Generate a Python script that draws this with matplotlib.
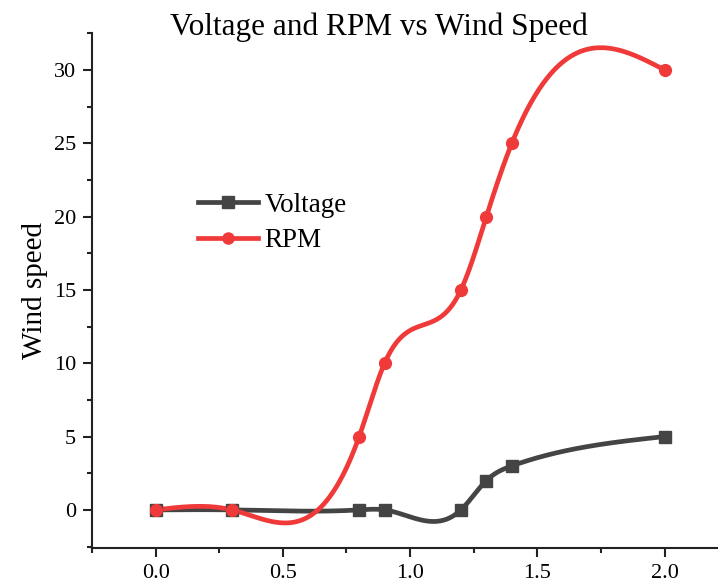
import matplotlib
matplotlib.use("Agg")
import matplotlib.pyplot as plt
import numpy as np
from matplotlib.ticker import MultipleLocator, FormatStrFormatter

# data
wind = [0.0, 0.3, 0.8, 0.9, 1.2, 1.3, 1.4, 2.0]
voltage = [0, 0, 0, 0, 0, 2, 3, 5]
rpm = [0, 0, 5, 10, 15, 20, 25, 30]

GRAY = "#444444"
RED = "#f03a3a"


def spline_curve(x, y, n=500):
    """natural cubic spline through the points (only used to draw the smooth line)"""
    x = np.asarray(x, float)
    y = np.asarray(y, float)
    k = len(x)
    h = np.diff(x)
    A = np.zeros((k, k))
    b = np.zeros(k)
    A[0, 0] = A[-1, -1] = 1
    for i in range(1, k - 1):
        A[i, i - 1] = h[i - 1]
        A[i, i] = 2 * (h[i - 1] + h[i])
        A[i, i + 1] = h[i]
        b[i] = 6 * ((y[i + 1] - y[i]) / h[i] - (y[i] - y[i - 1]) / h[i - 1])
    M = np.linalg.solve(A, b)
    xs = np.linspace(x[0], x[-1], n)
    idx = np.clip(np.searchsorted(x, xs) - 1, 0, k - 2)
    x0, x1 = x[idx], x[idx + 1]
    hh = x1 - x0
    t0, t1 = x1 - xs, xs - x0
    ys = (M[idx] * t0 ** 3 + M[idx + 1] * t1 ** 3) / (6 * hh) \
        + (y[idx] / hh - M[idx] * hh / 6) * t0 \
        + (y[idx + 1] / hh - M[idx + 1] * hh / 6) * t1
    return xs, ys


plt.rcParams["font.family"] = "Liberation Serif"

fig = plt.figure(figsize=(7.18, 5.83), dpi=100)
ax = fig.add_axes([0.1281, 0.060, 0.886, 0.883])

for yy, col, mk in [(voltage, GRAY, "s"), (rpm, RED, "o")]:
    xs, ys = spline_curve(wind, yy)
    ax.plot(xs, ys, color=col, lw=3.4, zorder=3)
    ax.plot(wind, yy, ls="none", marker=mk, ms=8.5, color=col, zorder=4)

# legend proxies (line + marker)
h1, = ax.plot([], [], color=GRAY, lw=3.4, marker="s", ms=8, label="Voltage")
h2, = ax.plot([], [], color=RED, lw=3.4, marker="o", ms=8, label="RPM")
ax.legend(handles=[h1, h2], loc="upper left", bbox_to_anchor=(0.2758, 0.669),
          bbox_transform=fig.transFigure, frameon=False, fontsize=19.5,
          handlelength=2.2, handletextpad=0.26, labelspacing=0.38,
          borderaxespad=0, borderpad=0)

ax.set_xlim(-0.25, 2.25)
ax.set_ylim(-2.6, 32.5)
ax.xaxis.set_major_locator(MultipleLocator(0.5))
ax.xaxis.set_minor_locator(MultipleLocator(0.25))
ax.yaxis.set_major_locator(MultipleLocator(5))
ax.yaxis.set_minor_locator(MultipleLocator(2.5))
ax.xaxis.set_major_formatter(FormatStrFormatter("%.1f"))

for s in ["top", "right"]:
    ax.spines[s].set_visible(False)
for s in ["left", "bottom"]:
    ax.spines[s].set_linewidth(1.5)
    ax.spines[s].set_color("#222222")
ax.tick_params(which="major", direction="out", length=6.5, width=1.5,
               labelsize=16, colors="#222222", labelcolor="black", pad=5)
ax.tick_params(which="minor", direction="out", length=3.5, width=1.5, colors="#222222")

ax.set_ylabel("Wind speed", fontsize=21, labelpad=4)
fig.text(0.527, 1 - 35 / 583, "Voltage and RPM vs Wind Speed", fontsize=22.5,
         ha="center", va="baseline")

fig.savefig("out.png", dpi=100)
